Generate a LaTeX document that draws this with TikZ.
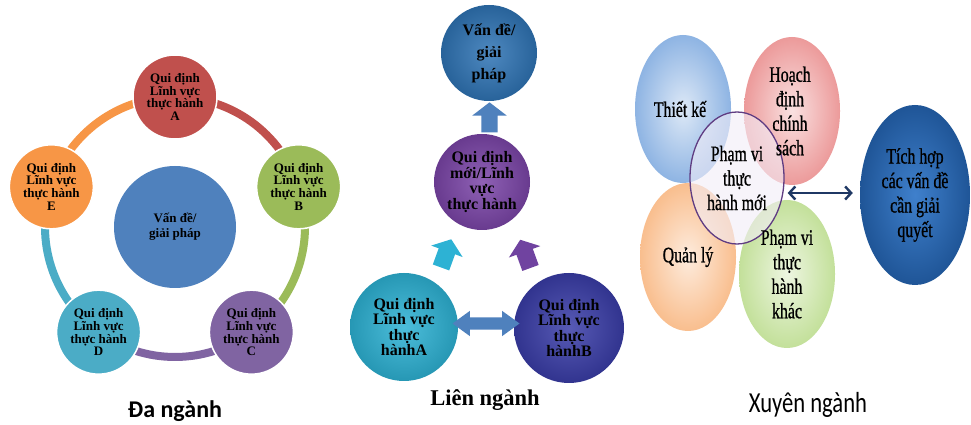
\documentclass[tikz,border=0pt]{standalone}
\usepackage{fontspec}
\setmainfont{Liberation Serif}
\newfontfamily\labelsans{Carlito}
\newfontfamily\narrowsans[FakeStretch=0.78]{Carlito}
\newfontfamily\narrowserif[FakeStretch=0.72,FakeBold=0.8]{Liberation Serif}
\usetikzlibrary{shapes.geometric,shapes.arrows,arrows.meta,calc}
% left
\definecolor{cA}{HTML}{C0504D}
\definecolor{cB}{HTML}{9BBB59}
\definecolor{cC}{HTML}{8064A2}
\definecolor{cD}{HTML}{4BACC6}
\definecolor{cE}{HTML}{F79646}
\definecolor{cHub}{HTML}{4F81BD}
% middle
\definecolor{cTop}{HTML}{2F74B5}
\definecolor{cMid}{HTML}{7B45A8}
\definecolor{cLeft}{HTML}{2DB2D4}
\definecolor{cRight}{HTML}{3A3DA8}
\definecolor{cArrow}{HTML}{4F81BD}
\definecolor{cMidArrow}{HTML}{7043A0}
% right
\definecolor{cDesign}{HTML}{8EB4E3}
\definecolor{cPolicy}{HTML}{EC9A9A}
\definecolor{cManage}{HTML}{F9BE8E}
\definecolor{cOther}{HTML}{C3E09A}
\definecolor{cRim}{HTML}{5F3C82}
\definecolor{cCore}{HTML}{F3EEF8}
\definecolor{cTich}{HTML}{1F5597}
\definecolor{cTichIn}{HTML}{3F80CC}
\definecolor{cNavy}{HTML}{1F3864}
\tikzset{
  field/.style={circle,fill=#1,draw=white,line width=1.5pt,minimum size=84pt,inner sep=0pt,align=center,font=\bfseries\fontsize{13}{12.8}\selectfont},
  ring/.style={line width=8pt},
  ball/.style={circle,inner color=#1!85!white,outer color=#1!85!black,inner sep=0pt,align=center,font=\bfseries\fontsize{16}{15.5}\selectfont},
  petal/.style={ellipse,inner color=#1!30!white,outer color=#1,inner sep=0pt,minimum width=96pt,minimum height=148pt},
  petaltext/.style={align=center,font=\narrowserif\fontsize{22}{24.5}\selectfont},
  blockup/.style={single arrow,fill=#1,inner xsep=0pt,inner ysep=8pt,single arrow head extend=9pt,single arrow tip angle=105,minimum height=30pt},
  blockboth/.style={double arrow,fill=cArrow,inner xsep=0pt,inner ysep=6pt,double arrow head extend=6.5pt,double arrow tip angle=72,minimum height=67pt},
  thinboth/.style={{Straight Barb[length=6pt,width=13pt]}-{Straight Barb[length=6pt,width=13pt]},line width=2.4pt,cNavy},
  caption/.style={anchor=base},
}
\begin{document}
\begin{tikzpicture}[x=1pt,y=1pt]
  \fill[white] (0,0) rectangle (971,425);
  \useasboundingbox (0,0) rectangle (971,425);
  % left: Da nganh
  \coordinate (hub0) at (175,198);
  \foreach \a/\b/\c in {90/18/cA,18/-54/cB,-54/-126/cC,-126/-198/cD,162/90/cE}
    \draw[ring,\c] ($(hub0)+(\a:130)$) arc[start angle=\a,end angle=\b,radius=130];
  \node[circle,fill=cHub,minimum size=122pt,inner sep=0pt,align=center,font=\bfseries\fontsize{13}{15}\selectfont] (hub) at (hub0) {Vấn đề/\\giải pháp};
  \foreach \n/\a/\c in {A/90/cA,B/18/cB,C/-54/cC,D/-126/cD,E/162/cE}
    \node[field=\c] (q\n) at ($(hub0)+(\a:130)$) {Qui định\\Lĩnh vực\\thực hành\\\n};
  \node[caption,font=\labelsans\bfseries\fontsize{24}{24}\selectfont] (da) at (175,7) {Đa ngành};
  % middle: Lien nganh
  \node[ball=cTop,minimum size=96pt,font=\bfseries\fontsize{16}{22}\selectfont] (top) at (489,372) {Vấn đề/\\giải\\pháp};
  \node[ball=cMid,minimum size=96pt] (mid) at (482,243) {Qui định\\mới/Lĩnh\\vực\\thực hành};
  \node[ball=cLeft,minimum size=108pt] (lfA) at (404,98) {Qui định\\Lĩnh vực\\thực\\hànhA};
  \node[ball=cRight,minimum size=110pt] (lfB) at (569,97) {Qui định\\Lĩnh vực\\thực\\hànhB};
  \node[blockup=cArrow,rotate=90] (upT) at ($(mid.north)!0.5!(top.south)+(4,-3)$) {};
  \node[blockup=cLeft,rotate=70,inner ysep=8.5pt,single arrow head extend=8pt] (upL) at ($(lfA)!0.5!(mid)+(2,-2)$) {};
  \node[blockup=cMidArrow,rotate=110,inner ysep=8.5pt,single arrow head extend=8pt] (upR) at ($(lfB)!0.5!(mid)+(1,-2)$) {};
  \node[blockboth] (both) at ($(lfA.east)!0.5!(lfB.west)+(0,4)$) {};
  \node[caption,font=\bfseries\fontsize{22.5}{22.5}\selectfont] (lien) at (485,19) {Liên ngành};
  % right: Xuyen nganh
  \foreach \n/\x/\y/\c in {design/683/316/cDesign,policy/792/314/cPolicy,manage/688/168/cManage,other/787/151/cOther}
    \node[petal=\c] (\n) at (\x,\y) {};
  \node[ellipse,draw=cRim,line width=1.3pt,fill=cCore,fill opacity=0.6,text opacity=1,minimum width=94pt,minimum height=132pt,inner sep=0pt,petaltext] (new) at (737,247) {Phạm vi\\thực\\hành mới};
  \node[petaltext] (tDesign) at ([xshift=-3pt]design) {Thiết kế};
  \node[petaltext] (tPolicy) at ([xshift=-2pt]policy) {Hoạch\\định\\chính\\sách};
  \node[petaltext] (tManage) at (manage) {Quản lý};
  \node[petaltext] (tOther) at (other) {Phạm vi\\thực\\hành\\khác};
  \node[ellipse,inner color=cTichIn,outer color=cTich,minimum width=110pt,minimum height=180pt,inner sep=0pt,petaltext] (tich) at (915,230) {Tích hợp\\các vấn đề\\cần giải\\quyết};
  \draw[thinboth] ([shift={(3,-15)}]new.east) -- ([shift={(-7,2)}]tich.west);
  \node[caption,font=\narrowsans\fontsize{29}{29}\selectfont] (xuyen) at (808,12) {Xuyên ngành};
\end{tikzpicture}
\end{document}
